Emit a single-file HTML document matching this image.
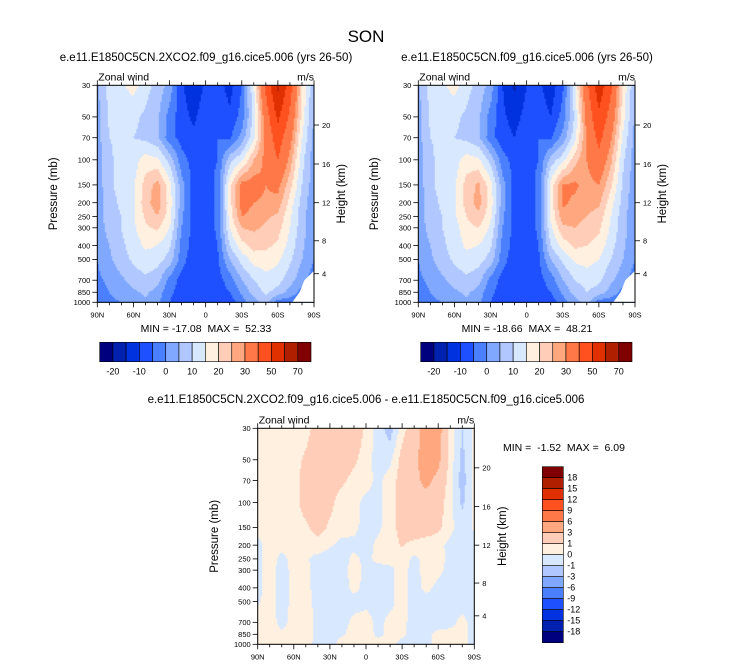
<!DOCTYPE html>
<html><head><meta charset="utf-8">
<style>
html,body{margin:0;padding:0;background:#fff;}
svg{display:block;font-family:"Liberation Sans",sans-serif;}
</style></head>
<body>
<svg id="fig" width="733" height="668" viewBox="0 0 733 668" xmlns="http://www.w3.org/2000/svg">
<text x="366" y="42" font-size="17" text-anchor="middle">SON</text>
<text x="206" y="61" font-size="11.5" text-anchor="middle">e.e11.E1850C5CN.2XCO2.f09_g16.cice5.006 (yrs 26-50)</text>
<text x="527" y="61" font-size="11.5" text-anchor="middle">e.e11.E1850C5CN.f09_g16.cice5.006 (yrs 26-50)</text>
<text x="366" y="403" font-size="11.5" text-anchor="middle">e.e11.E1850C5CN.2XCO2.f09_g16.cice5.006 - e.e11.E1850C5CN.f09_g16.cice5.006</text>
<text x="206" y="332" font-size="10.5" text-anchor="middle" xml:space="preserve">MIN = -17.08  MAX =  52.33</text>
<text x="527" y="332" font-size="10.5" text-anchor="middle" xml:space="preserve">MIN = -18.66  MAX =  48.21</text>
<text x="503" y="451" font-size="10.5" xml:space="preserve">MIN =  -1.52  MAX =  6.09</text>
<g id="layer"></g>
</svg>
<script>
// ---- data ----
const lats = [90,80,70,60,50,40,30,20,10,0,-10,-20,-30,-40,-50,-60,-70,-80,-90];
const levels = [30,50,70,100,150,200,250,300,400,500,700,850,1000];
const pTicks = [30,50,70,100,150,200,250,300,400,500,700,850,1000];
const hTicks = [4,8,12,16,20];
const hTickP = [630,370,200,107,57];
const xTickLabels = ['90N','60N','30N','0','30S','60S','90S'];
const xTickLats = [90,60,30,0,-30,-60,-90];
const contourLevels1 = [-20,-15,-10,-5,0,5,10,15,20,25,30,40,50,60,70];
const contourLabels1 = ['-20','-10','0','10','20','30','50','70'];
const contourLevels3 = [-18,-15,-12,-9,-6,-3,-1,0,1,3,6,9,12,15,18];
const contourLabels3 = ['18','15','12','9','6','3','1','0','-1','-3','-6','-9','-12','-15','-18'];
const palette = ['#00007f','#0020b0','#0032e0','#1e50ff','#4a80ff','#80a8ff','#b0c8ff','#d8e8ff','#fff0e0','#ffcdb8','#ffa880','#ff7848','#ff5020','#e03000','#b02000','#800000'];

const wind1 = [
[4,12,14,17,12,8,3,-9,-14,-9,-8,-12,-5,15,42,62,45,20,5],
[3,11,12,11,9,6,-2,-8,-11,-7,-6,-9,-3,12,35,52,38,18,4],
[3,10,11,10,9,6,-3,-7,-9,-6,-5,-6,2,14,33,45,33,15,3],
[2,9,12,13,17,16,8,-3,-7,-6,-5,8,14,25,32,40,28,12,2],
[2,9,12,14,22,27,17,2,-7,-7,-4,18,32,33,30,32,22,10,2],
[2,8,11,14,23,28,18,2,-7,-8,-4,18,33,30,29,28,18,8,1],
[2,8,10,14,21,25,17,1,-7,-8,-4,17,30,28,26,24,16,7,1],
[2,7,10,14,19,21,15,0,-7,-8,-4,15,25,26,24,22,15,7,1],
[1,5,9,12,16,15,11,-2,-7,-8,-5,10,18,22,21,19,13,6,1],
[0,4,8,11,13,12,8,-3,-8,-8,-6,5,12,17,18,16,11,5,0],
[-1,1,4,7,9,7,-2,-7,-7,-7,-7,-3,5,10,13,12,7,2,-3],
[-2,0,2,4,6,3,-4,-7,-7,-7,-7,-5,1,7,11,8,3,-2,-4],
[-3,-1,0,2,4,1,-5,-8,-7,-5,-9,-8,-2,3,7,-3,-3,-4,-4]
];
const wind2 = [
[4,12,14,17,12,8,3,-10,-16,-10,-9,-13,-6,14,38,56,42,19,5],
[3,11,12,11,9,6,-2,-9,-12,-8,-7,-10,-3,11,33,48,36,17,4],
[3,10,11,10,9,6,-3,-8,-10,-6,-5,-6,2,13,31,43,31,14,3],
[2,9,12,13,17,16,8,-3,-7,-6,-5,7,13,23,30,37,26,11,2],
[2,9,12,14,22,26,17,2,-7,-7,-4,17,30,31,28,30,21,9,2],
[2,8,11,14,22,27,18,2,-7,-8,-4,17,31,29,27,26,17,8,1],
[2,8,10,14,20,24,16,1,-7,-8,-4,16,28,27,25,23,15,7,1],
[2,7,10,13,18,20,14,0,-7,-8,-4,14,24,25,23,21,14,7,1],
[1,5,9,12,16,15,11,-2,-7,-8,-5,10,17,21,20,18,12,6,1],
[0,4,8,11,13,12,8,-3,-8,-8,-6,5,11,16,17,15,10,5,0],
[-1,1,4,7,9,7,-2,-7,-7,-7,-7,-3,5,10,12,11,6,2,-3],
[-2,0,2,4,6,3,-4,-7,-7,-7,-7,-5,1,7,10,8,3,-2,-4],
[-3,-1,0,2,4,1,-5,-8,-7,-5,-9,-8,-2,3,7,-3,-3,-4,-4]
];
const diff = [
[0.5,0.5,0.5,0.5,0.6,1.5,2,2,1.8,0.8,-0.5,-1.5,0.5,2,4,4,0.5,-1,0.2],
[0.5,0.5,0.5,0.6,1.2,1.8,1.8,1.5,1.2,0.5,-0.5,-0.3,1.5,2.5,4,3.5,0.5,-1.3,0.2],
[0.5,0.5,0.5,0.6,1.5,2,1.5,1.2,0.7,0.4,-0.3,0.5,1.5,2.5,3.5,2.5,0.3,-1.5,0.2],
[0.5,0.5,0.5,0.6,1.5,2,1.3,0.5,0.3,-0.3,-0.3,0.5,1.5,2.5,2.2,1.7,0.2,-1.2,0.2],
[0.3,0.5,0.5,0.5,0.8,1.5,0.8,0.4,0.2,-0.3,-0.2,0.5,1.5,2,1.8,1.3,0.3,-0.5,0.1],
[-0.3,0.4,0.3,0.5,0.3,0.5,0.1,-0.3,-0.2,-0.3,0.2,0.5,1.1,0.6,0.3,0.3,-0.3,-0.5,-0.2],
[-0.3,0.5,-0.3,0.4,0.1,-0.3,-0.4,-0.3,0.2,-0.2,0.2,0.3,0.4,-0.2,0.3,0.4,-0.3,-0.4,-0.3],
[-0.3,0.4,-0.4,0.3,0.2,-0.3,-0.4,-0.3,0.3,-0.2,-0.3,-0.2,0.3,-0.3,0.3,0.2,-0.3,-0.3,-0.3],
[-0.3,0.4,-0.4,0.3,0.2,-0.3,-0.4,-0.3,0.2,-0.2,-0.3,-0.2,0.3,-0.3,0.2,-0.2,-0.3,-0.3,-0.3],
[-0.1,0.4,-0.4,0.3,0.3,-0.3,-0.4,-0.3,-0.3,-0.2,-0.3,-0.2,0.3,-0.3,-0.3,-0.3,-0.3,-0.3,-0.3],
[0.3,0.4,-0.3,0.3,0.4,-0.2,-0.3,-0.3,0.2,0.3,-0.2,0.2,0.2,-0.3,-0.3,-0.3,-0.2,0.2,-0.3],
[0.3,0.4,0.2,0.4,0.4,-0.2,-0.3,-0.1,0.3,0.4,-0.2,0.2,0.2,-0.3,-0.2,0.2,0.2,0.2,-0.3],
[0.3,0.4,0.3,0.4,0.3,-0.3,-0.3,0.3,0.4,0.4,0.3,0.3,-0.3,-0.3,-0.2,0.3,0.2,0.2,-0.3]
];
const topoLat = [-72,-78,-82,-86,-90];
const topoP = [1000,850,700,650,600];

// ---- rendering ----
const NS='http://www.w3.org/2000/svg';
const layer=document.getElementById('layer');
function mk(tag,attrs,parent){const e=document.createElementNS(NS,tag);for(const k in attrs)e.setAttribute(k,attrs[k]);(parent||layer).appendChild(e);return e;}

function makeAxes(x0,x1,y0,y1){
  const lp0=Math.log(30),lp1=Math.log(1000);
  return {
    x:lat=>x0+(90-lat)/180*(x1-x0),
    y:p=>y0+(Math.log(p)-lp0)/(lp1-lp0)*(y1-y0),
    x0,x1,y0,y1
  };
}
function colorIdx(v,lv){let k=0;while(k<lv.length&&v>=lv[k])k++;return k;}
function sample(data,fi,fj){
  const i0=Math.max(0,Math.min(Math.floor(fi),levels.length-2)),j0=Math.max(0,Math.min(Math.floor(fj),lats.length-2));
  const ti=Math.min(1,Math.max(0,fi-i0)),tj=Math.min(1,Math.max(0,fj-j0));
  const a=data[i0][j0],b=data[i0][j0+1],c=data[i0+1][j0],d=data[i0+1][j0+1];
  return (a*(1-tj)+b*tj)*(1-ti)+(c*(1-tj)+d*tj)*ti;
}
function levelFrac(p){
  const lp=Math.log(p);
  for(let i=0;i<levels.length-1;i++){
    const a=Math.log(levels[i]),b=Math.log(levels[i+1]);
    if(lp<=b)return i+(lp-a)/(b-a);
  }
  return levels.length-1;
}
function drawField(ax,data,lv,name,topo){
  const g=mk('g',{});
  
  
  const step=1.5;
  const lp0=Math.log(30),lp1=Math.log(1000);
  for(let py=ax.y0;py<ax.y1;py+=step){
    const h=Math.min(step,ax.y1-py);
    const p=Math.exp(lp0+((py+h/2-ax.y0)/(ax.y1-ax.y0))*(lp1-lp0));
    const fi=levelFrac(p);
    let runStart=ax.x0,runC=-1;
    for(let px=ax.x0;px<ax.x1;px+=step){
      const lat=90-((px+step/2-ax.x0)/(ax.x1-ax.x0))*180;
      const fj=Math.min((90-lat)/10,18);
      const c=colorIdx(sample(data,fi,fj),lv);
      if(c!==runC){
        if(runC>=0){
          mk('rect',{x:runStart,y:py,width:px-runStart+0.5,height:h+0.5,fill:palette[runC]},g);
        }
        runStart=px;runC=c;
      }
    }
    if(runC>=0){
      mk('rect',{x:runStart,y:py,width:ax.x1-runStart,height:h+0.5,fill:palette[runC]},g);
    }
  }
  if(topo){
    let pts=topoLat.map((la,k)=>ax.x(la)+','+ax.y(topoP[k])).join(' ');
    pts+=' '+ax.x(-90)+','+ax.y(1000);
    const poly=mk('polygon',{points:pts,fill:'#fff'},g);
    
    
  }
}
function drawAxes(ax,name,ytitleX,htitleX){
  const g=mk('g',{});
  
  
  mk('rect',{x:ax.x0,y:ax.y0,width:ax.x1-ax.x0,height:ax.y1-ax.y0,fill:'none',stroke:'#000','stroke-width':1},g);
  pTicks.forEach(p=>{
    const y=ax.y(p);
    mk('line',{x1:ax.x0-5,x2:ax.x0,y1:y,y2:y,stroke:'#000','stroke-width':0.8},g);
    const t=mk('text',{x:ax.x0-7,y:y+2.8,'font-size':7.5,'text-anchor':'end'},g);
    t.textContent=p;
    
    
  });
  hTicks.forEach((hk,k)=>{
    const y=ax.y(hTickP[k]);
    mk('line',{x1:ax.x1,x2:ax.x1+5,y1:y,y2:y,stroke:'#000','stroke-width':0.8},g);
    const t=mk('text',{x:ax.x1+8,y:y+2.8,'font-size':7.5},g);
    t.textContent=hk;
    
    
  });
  for(let la=90;la>=-90;la-=10){
    const x=ax.x(la);const major=la%30===0;
    const L=major?5:3;
    mk('line',{x1:x,x2:x,y1:ax.y1,y2:ax.y1+L,stroke:'#000','stroke-width':0.8},g);
    mk('line',{x1:x,x2:x,y1:ax.y0,y2:ax.y0-L,stroke:'#000','stroke-width':0.8},g);
  }
  xTickLats.forEach((la,k)=>{
    const t=mk('text',{x:ax.x(la),y:ax.y1+15,'font-size':7.5,'text-anchor':'middle'},g);
    t.textContent=xTickLabels[k];
    
    
  });
  const z=mk('text',{x:ax.x0+1,y:ax.y0-5,'font-size':10.5},g);z.textContent='Zonal wind';
  
  const u=mk('text',{x:ax.x1,y:ax.y0-5,'font-size':10.5,'text-anchor':'end'},g);u.textContent='m/s';
  
  const cy=(ax.y0+ax.y1)/2;
  const yt=mk('text',{x:ytitleX,y:cy,'font-size':11.5,'text-anchor':'middle',transform:'rotate(-90 '+ytitleX+' '+cy+')'},g);
  yt.textContent='Pressure (mb)';
  
  const ht=mk('text',{x:htitleX,y:cy,'font-size':11.5,'text-anchor':'middle',transform:'rotate(-90 '+htitleX+' '+cy+')'},g);
  ht.textContent='Height (km)';
  
}
function hColorbar(x0,x1,y0,y1,name){
  const g=mk('g',{});
  
  
  const w=(x1-x0)/palette.length;
  palette.forEach((c,k)=>{mk('rect',{x:x0+k*w,y:y0,width:w,height:y1-y0,fill:c,stroke:'#000','stroke-width':0.6},g);});
  contourLabels1.forEach((lab,k)=>{
    const t=mk('text',{x:x0+(2*k+1)*w,y:y1+13,'font-size':9,'text-anchor':'middle'},g);
    t.textContent=lab;
    
  });
}
function vColorbar(x0,x1,y0,y1,name){
  const g=mk('g',{});
  
  
  const h=(y1-y0)/palette.length;
  palette.slice().reverse().forEach((c,k)=>{mk('rect',{x:x0,y:y0+k*h,width:x1-x0,height:h,fill:c,stroke:'#000','stroke-width':0.6},g);});
  contourLabels3.forEach((lab,k)=>{
    const t=mk('text',{x:x1+4,y:y0+(k+1)*h+3,'font-size':9},g);
    t.textContent=lab;
    
  });
}

const ax1=makeAxes(97.3,314,85.3,302.3);
const ax2=makeAxes(418.3,635,85.3,302.3);
const ax3=makeAxes(257.7,474.3,428.3,644.3);
drawField(ax1,wind1,contourLevels1,'panel1',true);
drawField(ax2,wind2,contourLevels1,'panel2',true);
drawField(ax3,diff,contourLevels3,'panel3',false);
drawAxes(ax1,'panel1',57,345);
drawAxes(ax2,'panel2',378,666);
drawAxes(ax3,'panel3',218,506);
hColorbar(99.7,311,342.3,361.7,'panel1-colorbar');
hColorbar(420.7,632,342.3,361.7,'panel2-colorbar');
vColorbar(542.3,563.3,466.7,642.7,'panel3-colorbar');
</script>
</body></html>
